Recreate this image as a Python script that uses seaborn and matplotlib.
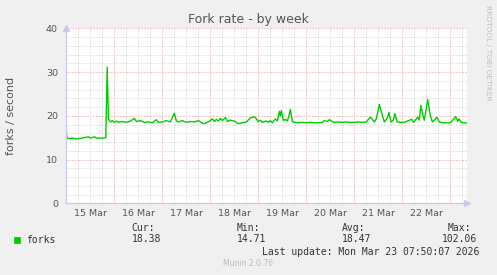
import numpy as np
import pandas as pd
import matplotlib
matplotlib.use("Agg")
import matplotlib.pyplot as plt
import matplotlib.dates as mdates
from matplotlib.ticker import FixedLocator, MultipleLocator, NullFormatter, FuncFormatter
from matplotlib.patches import Rectangle
import seaborn as sns

# ---- data (hours since 2026-03-15 00:00, forks/second) ----
hours = [-0.1, 0.3, 1, 3, 5, 8, 11, 12, 14, 15, 18, 19.7, 20.4, 21, 21.5, 22, 23, 24, 25, 26,
         28, 30, 32, 34, 35, 37, 39, 41, 43, 45, 46, 48, 50, 52, 54, 55, 56, 58, 60, 62,
         64, 66, 68.5, 70, 72, 73, 74, 75, 76, 77, 78, 79.5, 80.5, 82, 84, 86, 88, 90, 92, 94,
         95, 96, 97, 98, 100, 101, 102, 103, 104.5, 105.5, 106.5, 107, 107.5, 108.5, 109.5, 110.5,
         111.5, 112, 113, 114, 116, 118, 120, 122, 124, 126, 128, 129, 130.5, 131.5, 132.5, 134,
         136, 138, 140, 142, 144, 146, 148, 150, 152, 153, 154, 155, 156.5, 158, 159, 160.5,
         161.3, 162.3, 163.5, 164.3, 165.3, 167, 169, 170, 172.7, 173.7, 175.7, 176.5, 177.3,
         178.3, 179, 180.7, 182, 183, 184.5, 185.2, 186.5, 188, 190, 192, 194.7, 195.7, 196.3,
         197.5, 199, 200.3]
forks = [16.4, 15.0, 14.8, 14.9, 14.71, 14.9, 15.2, 14.9, 15.2, 14.9, 14.9, 15.0, 31.1, 19.5, 18.9, 18.6, 18.9, 18.5, 18.8, 18.5,
         18.7, 18.5, 18.8, 19.4, 18.7, 18.9, 18.5, 18.6, 18.4, 19.1, 18.5, 18.6, 18.9, 18.6, 20.6, 18.8, 18.6, 18.9, 18.5, 18.7,
         18.6, 18.9, 18.2, 18.4, 18.9, 19.3, 18.7, 19.2, 18.8, 19.4, 18.9, 19.6, 18.7, 19.0, 18.8, 18.2, 18.4, 18.6, 19.5, 19.8,
         19.3, 18.7, 19.0, 18.5, 18.8, 18.5, 18.9, 18.4, 19.3, 18.8, 21.0, 20.0, 21.2, 18.9, 19.2, 18.8,
         20.3, 21.5, 18.7, 18.5, 18.4, 18.5, 18.4, 18.5, 18.4, 18.4, 18.5, 18.9, 18.7, 19.1, 18.8, 18.5,
         18.6, 18.5, 18.6, 18.5, 18.5, 18.6, 18.5, 18.6, 19.7, 19.2, 18.6, 19.3, 22.6, 20.1, 18.6, 19.5,
         20.8, 18.6, 19.0, 20.5, 18.6, 18.5, 18.5, 18.7, 19.2, 18.5, 19.7, 19.0, 22.4,
         20.1, 19.0, 23.7, 20.1, 18.6, 19.2, 19.7, 18.6, 18.4, 18.4, 18.4, 19.8, 18.7, 19.3,
         18.5, 18.4, 18.38]

day_labels = ["15 Mar", "16 Mar", "17 Mar", "18 Mar", "19 Mar", "20 Mar", "21 Mar", "22 Mar"]
y_ticks = [0, 10, 20, 30, 40]
stat_names = ["Cur:", "Min:", "Avg:", "Max:"]
stat_values = ["18.38", "14.71", "18.47", "102.06"]

t0 = pd.Timestamp("2026-03-15 00:00")
df = pd.DataFrame({"time": t0 + pd.to_timedelta(hours, unit="h"), "forks": forks})

sns.set_style("white")
plt.rcParams["font.family"] = ["DejaVu Sans"]

W, H = 497, 275
fig = plt.figure(figsize=(W / 100, H / 100), dpi=100, facecolor="#F0F0F0")
ax_l, ax_r, ax_t, ax_b = 66.3, 467.0, 28.3, 203.3
ax = fig.add_axes([ax_l / W, 1 - ax_b / H, (ax_r - ax_l) / W, (ax_b - ax_t) / H])
ax.set_facecolor("white")

sns.lineplot(data=df, x="time", y="forks", ax=ax, color="#00CC00", linewidth=1.0, zorder=5)

x0 = mdates.date2num(t0 + pd.Timedelta(hours=-0.05))
x1 = mdates.date2num(t0 + pd.Timedelta(hours=200.35))
ax.set_xlim(x0, x1)
ax.set_ylim(0, 40)

# grids
ax.xaxis.set_major_locator(mdates.DayLocator())
ax.xaxis.set_minor_locator(mdates.HourLocator(byhour=[0, 6, 12, 18]))
ax.xaxis.set_major_formatter(NullFormatter())
def minor_fmt(x, pos):
    d = mdates.num2date(x)
    if d.hour == 12:
        lab = d.strftime("%d %b").lstrip("0")
        return lab if lab in day_labels else ""
    return ""
ax.xaxis.set_minor_formatter(FuncFormatter(minor_fmt))
ax.yaxis.set_major_locator(FixedLocator(y_ticks))
ax.yaxis.set_minor_locator(MultipleLocator(2))
ax.set_yticklabels([str(v) for v in y_ticks])

ax.grid(which="minor", color="#CCCCCC", linestyle=(0, (1, 2)), linewidth=0.72, zorder=0)
ax.grid(which="major", color="#F09090", linestyle=(0, (1, 2)), linewidth=0.72, zorder=1)
ax.set_axisbelow(True)

ax.tick_params(axis="x", which="minor", length=0, pad=4, labelsize=6.8, labelcolor="#555555")
ax.tick_params(axis="x", which="major", length=2, color="#F09090", width=0.8)
ax.tick_params(axis="y", which="major", length=2, color="#C8C8F0", pad=4, labelsize=6.8, labelcolor="#555555")
ax.tick_params(axis="y", which="minor", length=0)

for s in ["top", "right"]:
    ax.spines[s].set_visible(False)
for s in ["left", "bottom"]:
    ax.spines[s].set_color("#C8C8F0")
    ax.spines[s].set_linewidth(0.9)
ax.spines["left"].set_zorder(6)
ax.spines["bottom"].set_zorder(6)

# axis arrows
ax.plot([0], [1.0], marker="^", markersize=4, color="#C8C8F0", transform=ax.transAxes,
        clip_on=False, zorder=7)
ax.plot([1.0], [0], marker=">", markersize=4, color="#C8C8F0", transform=ax.transAxes,
        clip_on=False, zorder=7)

ax.set_xlabel("")
ax.set_ylabel("forks / second", fontsize=8, color="#555555")
ax.yaxis.set_label_coords((15.5 - ax_l) / (ax_r - ax_l), 0.5)

fig.text(248 / W, 1 - 19 / H, "Fork rate - by week", ha="center", va="center",
         fontsize=9, color="#555555")
fig.text(488 / W, 1 - 5 / H, "RRDTOOL / TOBI OETIKER", rotation=270, ha="center", va="top",
         fontsize=5.4, color="#C0C0C0")

mono = "DejaVu Sans Mono"
fig.patches.append(Rectangle((14 / W, 1 - 243 / H), 6 / W, 6 / H, transform=fig.transFigure,
                             facecolor="#00CC00", edgecolor="#00CC00", linewidth=0.5))
fig.text(26.5 / W, 1 - 240 / H, "forks", ha="left", va="center", family=mono, fontsize=7, color="#333333")
stat_x = [131.7, 236.7, 341.7, 447.3]
val_x = [131.7, 236.7, 341.7, 441.7]
for nm, vx, sx, v in zip(stat_names, val_x, stat_x, stat_values):
    fig.text(sx / W, 1 - 228 / H, nm, ha="left", va="center", family=mono, fontsize=7, color="#333333")
    fig.text(vx / W, 1 - 239.5 / H, v, ha="left", va="center", family=mono, fontsize=7, color="#333333")
fig.text(261.7 / W, 1 - 251.7 / H, "Last update: Mon Mar 23 07:50:07 2026", ha="left", va="center",
         family=mono, fontsize=7, color="#333333")
fig.text(248 / W, 1 - 264 / H, "Munin 2.0.76", ha="center", va="center", fontsize=5.5, color="#BBBBBB")

fig.savefig("out.png", dpi=100, facecolor=fig.get_facecolor())
